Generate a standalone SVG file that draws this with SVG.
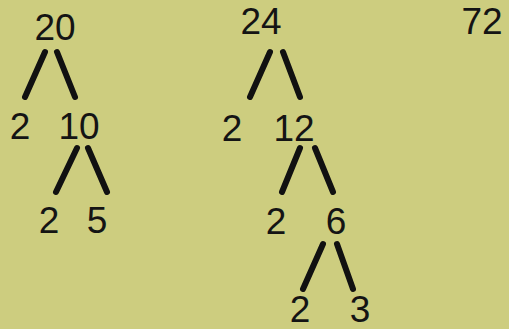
<svg xmlns="http://www.w3.org/2000/svg" width="509" height="329" viewBox="0 0 509 329">
<style>
.n{font-family:"Liberation Sans","DejaVu Sans",sans-serif;font-size:37px;fill:#141414;text-anchor:middle}
.e{stroke:#111;stroke-width:6;stroke-linecap:round;fill:none}
</style>
<rect width="509" height="329" fill="#cdcd7f"/>
<g id="connectors">
<line class="e" x1="45" y1="52" x2="25" y2="97"/>
<line class="e" x1="57" y1="52" x2="75" y2="97"/>
<line class="e" x1="77" y1="148" x2="56" y2="192"/>
<line class="e" x1="88" y1="148" x2="107" y2="192"/>
<line class="e" x1="270" y1="52" x2="250" y2="97"/>
<line class="e" x1="283" y1="52" x2="300" y2="97"/>
<line class="e" x1="300" y1="148" x2="282" y2="192"/>
<line class="e" x1="315" y1="148" x2="333" y2="192"/>
<line class="e" x1="323" y1="244" x2="303" y2="289"/>
<line class="e" x1="337" y1="244" x2="353" y2="289"/>
</g>
<g id="n20"><text class="n" x="55" y="40">20</text></g>
<g id="n2a"><text class="n" x="20" y="139">2</text></g>
<g id="n10"><text class="n" x="79" y="139">10</text></g>
<g id="n2b"><text class="n" x="49" y="233">2</text></g>
<g id="n5"><text class="n" x="97" y="233">5</text></g>
<g id="n24"><text class="n" x="261" y="34">24</text></g>
<g id="n2c"><text class="n" x="232" y="141">2</text></g>
<g id="n12"><text class="n" x="294" y="141">12</text></g>
<g id="n2d"><text class="n" x="276" y="234">2</text></g>
<g id="n6"><text class="n" x="336" y="234">6</text></g>
<g id="n2e"><text class="n" x="300" y="322">2</text></g>
<g id="n3"><text class="n" x="360" y="322">3</text></g>
<g id="n72"><text class="n" x="482" y="34">72</text></g>
</svg>
